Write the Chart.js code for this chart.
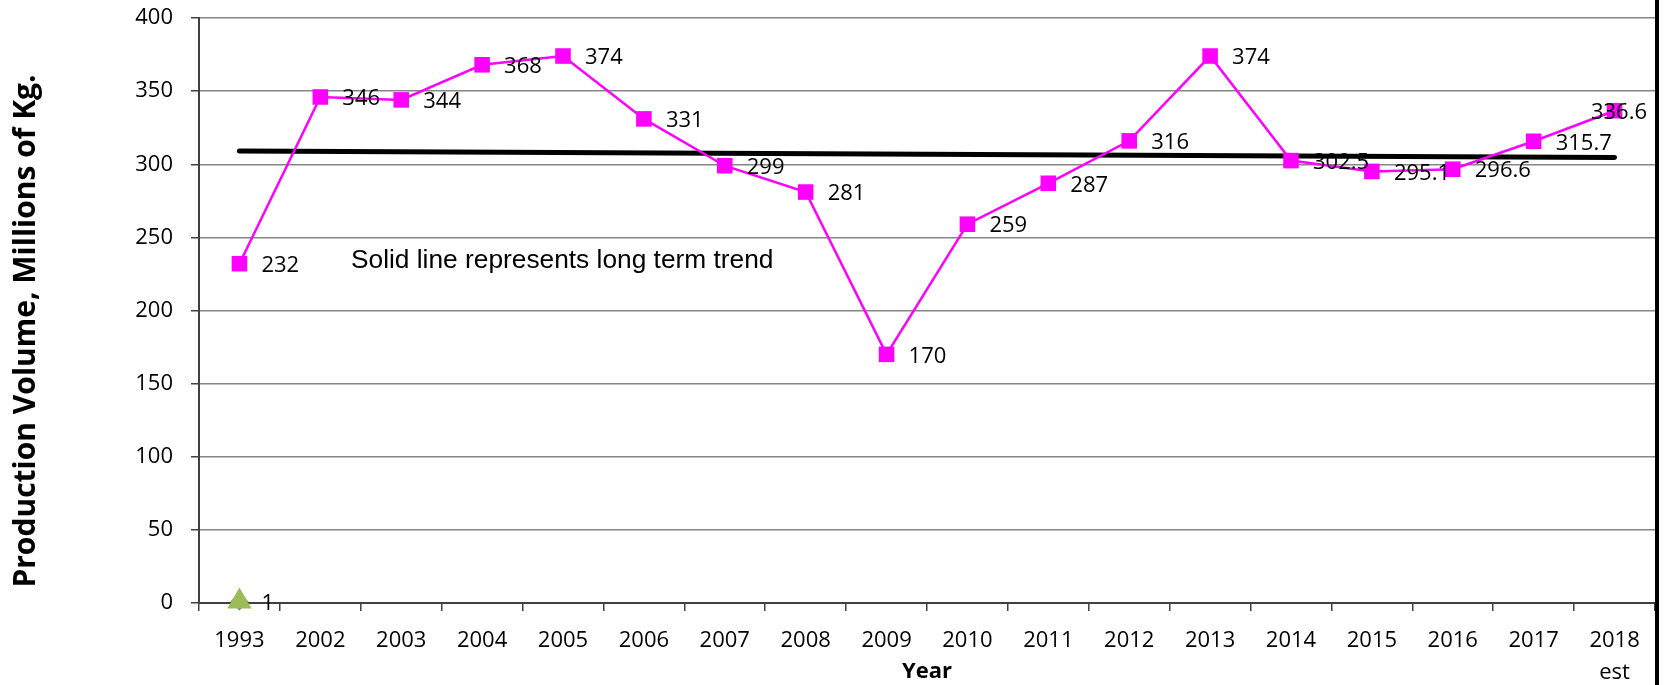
<!DOCTYPE html>
<html>
<head>
<meta charset="utf-8">
<script src="https://cdn.jsdelivr.net/npm/chart.js@4"></script>
<style>
  html, body { margin: 0; padding: 0; background: #fff; overflow: hidden; }
  #wrap { width: 1669px; height: 685px; }
  canvas { display: block; }
</style>
</head>
<body>
<div id="wrap"><canvas id="prodChart"></canvas></div>
<script>
// categories (years)
const years = ["1993", "2002", "2003", "2004", "2005", "2006", "2007", "2008", "2009",
  "2010", "2011", "2012", "2013", "2014", "2015", "2016", "2017", ["2018", "est"]];

// production volume, millions of kg
const production = [232, 346, 344, 368, 374, 331, 299, 281, 170,
  259, 287, 316, 374, 302.5, 295.1, 296.6, 315.7, 336.6];

// long term trend, only the two ends are drawn
const trend = [309, null, null, null, null, null, null, null, null,
  null, null, null, null, null, null, null, null, 304.7];

// the small markers sitting at the bottom of 1993
const blueMark = [1];
const greenMark = [1];

const yTicks = [0, 50, 100, 150, 200, 250, 300, 350, 400];

const tickFont = { family: "'Open Sans'", size: 22, lineHeight: 1.45 };
const titleFont = { family: "'Open Sans'", size: 22, weight: "bold" };

// value labels, note text, y title and right frame edge
const valueLabels = {
  id: "valueLabels",
  afterDatasetsDraw(chart) {
    const ctx = chart.ctx;
    const area = chart.chartArea;
    ctx.save();
    ctx.font = "22px 'Open Sans'";
    ctx.fillStyle = "#000";
    ctx.textBaseline = "middle";
    ctx.textAlign = "left";
    [0, 3].forEach((di) => {
      const ds = chart.data.datasets[di];
      const meta = chart.getDatasetMeta(di);
      meta.data.forEach((pt, i) => {
        const v = ds.data[i];
        if (v == null) return;
        const txt = String(v);
        const w = ctx.measureText(txt).width;
        let x = pt.x + 22;
        if (x + w > area.right - 8) x = area.right - 8 - w;
        ctx.fillText(txt, x, pt.y + 2);
      });
    });
    // note about the trend line
    ctx.font = "26.3px 'Liberation Sans'";
    ctx.fillText("Solid line represents long term trend", 351, 261);
    ctx.restore();
  },
  afterDraw(chart) {
    const ctx = chart.ctx;
    ctx.save();
    // y axis title
    ctx.translate(26, 331);
    ctx.rotate(-Math.PI / 2);
    ctx.font = "bold 30px 'Open Sans'";
    ctx.fillStyle = "#000";
    ctx.textAlign = "center";
    ctx.textBaseline = "middle";
    ctx.fillText("Production Volume, Millions of Kg.", 0, 0);
    ctx.restore();
    // thick black frame edge on the right
    ctx.save();
    ctx.strokeStyle = "#000";
    ctx.lineWidth = 4;
    ctx.beginPath();
    ctx.moveTo(chart.chartArea.right + 2, 0);
    ctx.lineTo(chart.chartArea.right + 2, chart.height);
    ctx.stroke();
    ctx.restore();
  },
};

const ctxProd = document.getElementById("prodChart").getContext("2d");

const prodChart = new Chart(ctxProd, {
  type: "line",
  data: {
    labels: years,
    datasets: [
      {
        label: "Production",
        data: production,
        borderColor: "#ff00ff",
        backgroundColor: "#ff00ff",
        borderWidth: 2.5,
        tension: 0,
        pointStyle: "rect",
        pointRadius: 11,
        pointBorderWidth: 0,
        pointBackgroundColor: "#ff00ff",
        order: 1,
        clip: false,
      },
      {
        label: "Trend",
        data: trend,
        spanGaps: true,
        borderColor: "#000",
        borderWidth: 5,
        borderCapStyle: "round",
        pointRadius: 0,
        order: 2,
        clip: false,
      },
      {
        label: "Series A",
        data: blueMark,
        showLine: false,
        pointStyle: "rectRot",
        pointRadius: 9,
        pointBorderWidth: 0,
        pointBackgroundColor: "#4f81bd",
        order: 4,
        clip: false,
      },
      {
        label: "Series B",
        data: greenMark,
        showLine: false,
        pointStyle: "triangle",
        pointRadius: 14,
        pointBorderWidth: 0,
        pointBackgroundColor: "#9bbb59",
        order: 3,
        clip: false,
      },
    ],
  },
  options: {
    responsive: true,
    maintainAspectRatio: false,
    animation: false,
    layout: {
      padding: { top: 18, right: 10, bottom: 0, left: 0 },
    },
    plugins: {
      legend: { display: false },
      tooltip: { enabled: false },
    },
    scales: {
      x: {
        offset: true,
        afterFit: (s) => { s.height = 82; },
        border: { color: "#404040", width: 2 },
        grid: {
          offset: true,
          drawOnChartArea: false,
          tickLength: 8,
          color: "#404040",
          lineWidth: 1.5,
        },
        ticks: {
          font: tickFont,
          color: "#000",
          padding: 14,
          maxRotation: 0,
          autoSkip: false,
        },
        title: {
          display: true,
          text: "Year",
          font: titleFont,
          color: "#000",
          padding: { top: 0, bottom: 0 },
        },
      },
      y: {
        min: 0,
        max: 400,
        afterFit: (s) => {
          s.width = 199;
          s.paddingTop = 0;
          s.paddingBottom = 0;
        },
        afterBuildTicks: (s) => { s.ticks = yTicks.map((v) => ({ value: v })); },
        border: { color: "#404040", width: 2 },
        grid: {
          color: "#868686",
          lineWidth: 1.5,
          tickColor: "#404040",
          tickLength: 8,
        },
        ticks: {
          font: { family: "'Open Sans'", size: 22 },
          color: "#000",
          padding: 18,
        },
      },
    },
  },
  plugins: [valueLabels],
});
</script>
</body>
</html>
